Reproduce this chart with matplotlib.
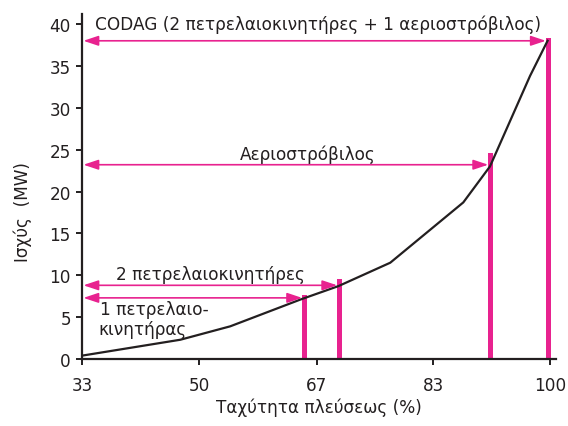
import matplotlib
matplotlib.use('Agg')
import matplotlib.pyplot as plt

plt.rcParams['font.family'] = ['DejaVu Sans']

# power curve
speed_pct = [33.3, 47.3, 54.4, 64.4, 69.8, 77.2, 87.6, 91.4, 97.1, 99.6]
power_mw = [0.4, 2.3, 3.9, 7.1, 8.7, 11.5, 18.7, 23.0, 33.8, 38.0]

# the four engine configurations: bar position, bar height, arrow level
config_speed = [65.0, 70.0, 91.5, 99.7]
config_bar_top = [7.6, 9.5, 24.6, 38.3]
config_arrow_y = [7.3, 8.8, 23.2, 38.0]

xtick_pos = [33.3, 50.0, 66.7, 83.3, 100.0]
xtick_labels = ['33', '50', '67', '83', '100']
ytick_pos = [0, 5, 10, 15, 20, 25, 30, 35, 40]

pink = '#e8228f'
ink = '#231f20'

fig = plt.figure(figsize=(5.68, 4.27), dpi=100)
ax = fig.add_axes([82/568, 1 - 360/427, 474/568, 345/427])

ax.bar(config_speed, config_bar_top, width=0.75, color=pink, zorder=2)
ax.plot(speed_pct, power_mw, color=ink, lw=1.6, zorder=3)

# double headed arrows from the axis to each bar
for xe, ya in zip(config_speed, config_arrow_y):
    ax.annotate('', xy=(xe - 0.35, ya), xytext=(33.5, ya),
                arrowprops=dict(arrowstyle='<|-|>,head_length=0.9,head_width=0.3',
                                color=pink, lw=1.2, shrinkA=0, shrinkB=0,
                                mutation_scale=10), zorder=4)

fs = 12.2
ax.text(35.2, 39.4, 'CODAG (2 πετρελαιοκινητήρες + 1 αεριοστρόβιλος)',
        fontsize=fs, color=ink, va='baseline', ha='left')
ax.text(65.4, 23.9, 'Αεριοστρόβιλος', fontsize=fs, color=ink, va='baseline', ha='center')
ax.text(38.2, 9.5, '2 πετρελαιοκινητήρες', fontsize=fs, color=ink, va='baseline', ha='left')
ax.text(35.9, 5.4, '1 πετρελαιο-', fontsize=fs, color=ink, va='baseline', ha='left')
ax.text(35.6, 3.0, 'κινητήρας', fontsize=fs, color=ink, va='baseline', ha='left')

ax.set_xlim(33.3, 100.8)
ax.set_ylim(0, 41.2)
ax.set_xticks(xtick_pos)
ax.set_xticklabels(xtick_labels)
ax.set_yticks(ytick_pos)

for side in ['top', 'right']:
    ax.spines[side].set_visible(False)
for side in ['left', 'bottom']:
    ax.spines[side].set_linewidth(1.6)
    ax.spines[side].set_color(ink)
ax.tick_params(axis='both', colors=ink, labelsize=fs, width=1.4, length=4)
ax.tick_params(axis='x', pad=8)
ax.tick_params(axis='y', pad=4)

ax.set_xlabel('Ταχύτητα πλεύσεως (%)', fontsize=fs, color=ink)
ax.set_ylabel('Ισχύς  (MW)', fontsize=fs, color=ink)
ax.xaxis.set_label_coords(0.5, -0.112)
ax.yaxis.set_label_coords(-0.105, 0.43)

fig.savefig('out.png', dpi=100)
plt.close(fig)
